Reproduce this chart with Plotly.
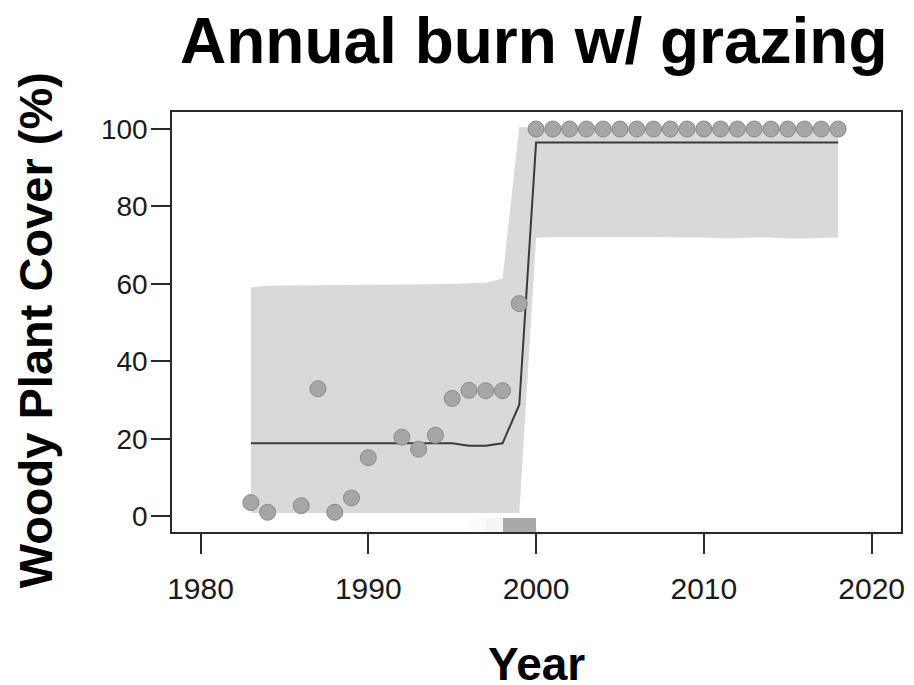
import plotly.graph_objects as go

# observed woody cover (%)
obs_year = [1983, 1984, 1986, 1987, 1988, 1989, 1990, 1992, 1993, 1994, 1995,
            1996, 1997, 1998, 1999, 2000, 2001, 2002, 2003, 2004, 2005, 2006,
            2007, 2008, 2009, 2010, 2011, 2012, 2013, 2014, 2015, 2016, 2017, 2018]
obs_cover = [3.5, 1.0, 2.7, 32.9, 1.0, 4.7, 15.1, 20.4, 17.3, 20.9, 30.4,
             32.5, 32.4, 32.4, 54.9, 100, 100, 100, 100, 100, 100, 100,
             100, 100, 100, 100, 100, 100, 100, 100, 100, 100, 100, 100]

# fitted model + credible band
fit_year = list(range(1983, 2019))
fit_mean = [18.8, 18.8, 18.8, 18.8, 18.8, 18.8, 18.8, 18.8, 18.8, 18.8, 18.8, 18.8, 18.8,
            18.2, 18.2, 18.8, 28.8,
            96.5, 96.5, 96.5, 96.5, 96.5, 96.5, 96.5, 96.5, 96.5, 96.5,
            96.5, 96.5, 96.5, 96.5, 96.5, 96.5, 96.5, 96.5, 96.5]
fit_upper = [59.1, 59.5, 59.6, 59.6, 59.7, 59.7, 59.7, 59.8, 59.8, 59.8, 59.9, 59.9, 60.0,
             60.1, 60.3, 61.4, 100.5,
             100.3, 100.3, 100.3, 100.3, 100.3, 100.3, 100.3, 100.3, 100.3, 100.3,
             100.3, 100.3, 100.3, 100.3, 100.3, 100.3, 100.3, 100.3, 100.3]
fit_lower = [0.8, 0.8, 0.8, 0.8, 0.8, 0.8, 0.8, 0.8, 0.8, 0.8, 0.8, 0.8, 0.8,
             0.8, 0.8, 0.8, 0.8,
             71.9, 72.1, 72.1, 72.1, 72.1, 72.1, 72.1, 72.1, 72.1, 72.0,
             72.0, 71.8, 71.8, 72.0, 72.0, 71.7, 71.7, 71.8, 72.0]

# changepoint probability by year (rug along the bottom)
cp_year = [1996, 1997, 1998, 1999]
cp_prob = [0.05, 0.12, 1.0, 1.0]

x_ticks = [1980, 1990, 2000, 2010, 2020]
y_ticks = [0, 20, 40, 60, 80, 100]

FONT = "Liberation Sans, Arial, sans-serif"

fig = go.Figure()

fig.add_trace(go.Scatter(
    x=fit_year + fit_year[::-1],
    y=fit_upper + fit_lower[::-1],
    fill="toself", fillcolor="#d9d9d9",
    line=dict(width=0), mode="lines", hoverinfo="skip", showlegend=False))

fig.add_trace(go.Bar(
    x=[y + 0.5 for y in cp_year], y=[3.7] * len(cp_year), base=-4.1, width=1,
    marker=dict(color=["rgba(169,169,169,%.2f)" % p for p in cp_prob], line=dict(width=0)),
    showlegend=False))

fig.add_trace(go.Scatter(
    x=fit_year, y=fit_mean, mode="lines",
    line=dict(color="#3a3a3a", width=2), showlegend=False))

fig.add_trace(go.Scatter(
    x=obs_year, y=obs_cover, mode="markers",
    marker=dict(size=16, color="#a6a6a6", line=dict(color="#8a8a8a", width=1)),
    showlegend=False))

axis_common = dict(showline=True, mirror=True, linecolor="#2a2a2a", linewidth=1.5,
                   ticks="outside", tickcolor="#2a2a2a", tickwidth=1.5,
                   showgrid=False, zeroline=False)

fig.update_xaxes(range=[1978.3, 2021.75], tickvals=x_ticks, ticklen=20,
                 ticklabelstandoff=9, tickfont=dict(family=FONT, size=30, color="#1a1a1a"),
                 **axis_common)
fig.update_yaxes(range=[-4.1, 104.4], tickvals=y_ticks, ticklen=19,
                 ticklabelstandoff=-2, tickfont=dict(family=FONT, size=28, color="#1a1a1a"),
                 **axis_common)

fig.add_annotation(text="<b>Annual burn w/ grazing</b>", xref="paper", yref="paper",
                   x=0.497, y=1.17, xanchor="center", yanchor="middle", showarrow=False,
                   font=dict(family=FONT, size=64, color="black"))
fig.add_annotation(text="<b>Woody Plant Cover (%)</b>", xref="paper", yref="paper",
                   x=-0.188, y=0.48, xanchor="center", yanchor="middle", showarrow=False,
                   textangle=-90, font=dict(family=FONT, size=47, color="black"))
fig.add_annotation(text="<b>Year</b>", xref="paper", yref="paper",
                   x=0.5, y=-0.314, xanchor="center", yanchor="middle", showarrow=False,
                   font=dict(family=FONT, size=46, color="black"))

# page body has an 8px margin, so the figure is drawn 8px smaller
fig.update_layout(width=906, height=677, margin=dict(l=164, r=9, t=104, b=153),
                  plot_bgcolor="white", paper_bgcolor="white", bargap=0)

fig.write_html("out.html")
